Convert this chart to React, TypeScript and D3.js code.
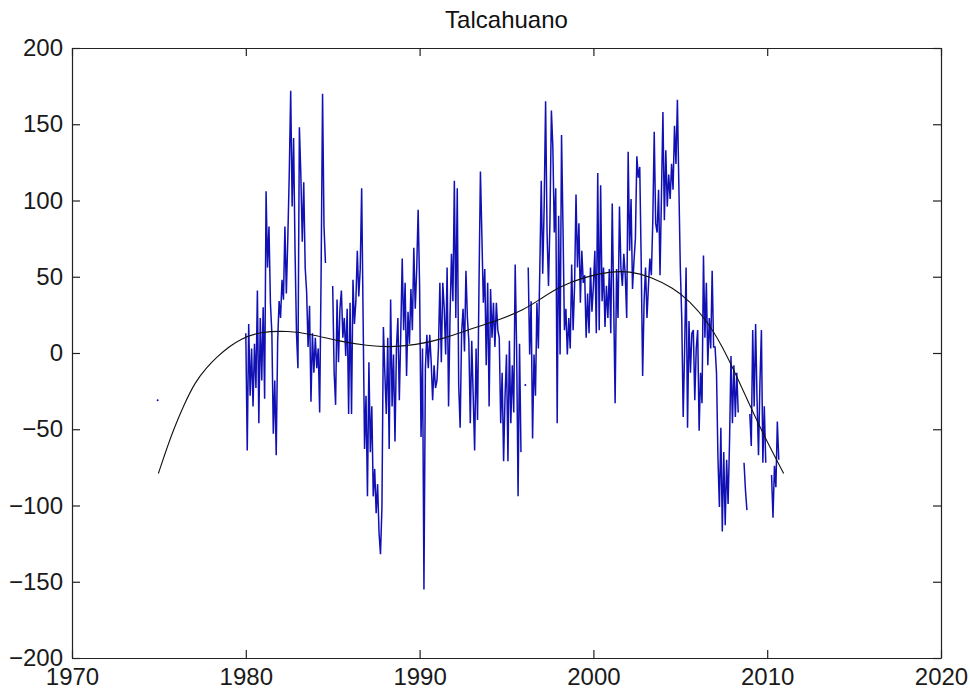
import React, { useEffect, useRef } from "react";
import * as d3 from "d3";

const title = "Talcahuano";
const xTicks = [1970, 1980, 1990, 2000, 2010, 2020];
const yTicks = [-200, -150, -100, -50, 0, 50, 100, 150, 200];

// monthly values Jan..Dec, null where the record has a gap
const firstYear = 1980;
const y1980 = [13, -64, 19, -28, 3, -35, 6, -23, 41, -46, 23, -18];
const y1981 = [30, -30, 106, 56, 83, 33, 13, -53, -18, -67, 8, 34];
const y1982 = [23, 48, 35, 83, 39, 75, 117, 172, 96, 141, 67, 13];
const y1983 = [-10, 148, 117, 73, 112, 56, 40, 4, 31, -32, 13, -13];
const y1984 = [10, -10, 3, -39, 52, 170, 83, 59, null, null, null, null];
const y1985 = [44, -13, -34, 35, -6, 29, 41, 10, 23, -2, 29, -40];
const y1986 = [33, -40, 48, 19, 34, 67, 37, 55, 108, 23, -63, -28];
const y1987 = [-94, -6, -65, -35, -94, -76, -105, -86, -118, -132, -101, 17];
const y1988 = [-13, -40, 10, -63, 35, -35, -1, -58, 3, 23, -31, 13];
const y1989 = [62, 15, 46, -15, 27, 6, 42, 15, 69, 29, 55, 94];
const y1990 = [44, -55, 3, -155, -10, 12, -10, 12, -6, -31, -8, -23];
const y1991 = [-18, 3, 46, -6, 46, 29, -1, 56, -35, 23, 65, 34];
const y1992 = [113, 23, 108, -21, -49, 13, 29, 1, 54, 23, 8, -46];
const y1993 = [8, -28, -64, 3, -44, 44, 119, 77, 33, 55, -8, 46];
const y1994 = [-35, 42, 10, 33, 4, 33, 15, 10, -46, -13, -71, -28];
const y1995 = [-1, -71, 8, -46, -8, -39, 58, 3, -94, 6, -65, null];
const y1996 = [null, -21, null, 56, -1, 34, -56, -1, -28, 33, 3, 55];
const y1997 = [113, 52, 96, 165, 79, 44, 86, 159, 135, 79, 108, -46];
const y1998 = [90, -1, 143, 83, 15, 29, -1, 23, 3, 58, 15, 44];
const y1999 = [104, 56, 85, 33, 67, 46, 51, 10, 39, 13, 56, 27];
const y2000 = [44, 67, 13, 118, 15, 110, 34, 56, 17, 44, 23, 55];
const y2001 = [13, 98, 34, -33, 55, 23, 96, 56, 44, 65, 51, 23];
const y2002 = [132, 67, 101, 42, 60, 75, 129, 115, 122, 60, -15, 34];
const y2003 = [56, 23, 44, 62, 51, 86, 145, 85, 79, 107, 51, 104];
const y2004 = [158, 87, 133, 96, 117, 101, 124, 107, 149, 124, 166, 110];
const y2005 = [56, 23, -42, 3, 56, -49, 21, -13, 13, 15, -31, 3];
const y2006 = [15, -51, -13, -33, 64, 10, 46, -8, 23, 3, 54, 4];
const y2007 = [4, -13, -69, -101, -49, -117, -65, -113, -70, -99, -58, -2];
const y2008 = [-46, -8, -42, -13, -39, null, null, null, -72, -90, -103, null];
const y2009 = [-40, -61, 15, -35, 19, -31, -67, -19, 15, -72, -35, -72];
const y2010 = [null, null, null, -80, -108, -74, -88, -45, -70, null, null, null];

const years = [
  y1980, y1981, y1982, y1983, y1984, y1985, y1986, y1987, y1988, y1989,
  y1990, y1991, y1992, y1993, y1994, y1995, y1996, y1997, y1998, y1999,
  y2000, y2001, y2002, y2003, y2004, y2005, y2006, y2007, y2008, y2009, y2010,
];

// a lone reading well before the record starts
const strayTimes = [1974.93];
const strayValues = [-31];

// fitted trend
const trendTimes = [
  1974.97, 1975.35, 1975.83, 1976.4, 1977.08, 1977.75, 1978.33, 1979.09, 1979.67,
  1980.8, 1982.5, 1983.7, 1985.4, 1987.0, 1988.3, 1989.8, 1991.2, 1993.1, 1994.6,
  1996.0, 1996.9, 1998.08, 1999.42, 2000.95, 2002.1, 2003.26, 2004.6, 2005.56,
  2006.5, 2007.4, 2008.4, 2009.3, 2010.3, 2010.95,
];
const trendValues = [
  -79, -66, -50.5, -35, -19, -9.5, -2.5, 4.5, 9,
  14, 14.5, 12.5, 7.6, 4.8, 3.7, 5.4, 8.7, 16.4, 21.8,
  28.4, 35, 43.7, 49.6, 53.5, 53.6, 50.2, 42.6, 33.8,
  21.5, 5, -19, -42, -65, -79,
];

type Pt = { t: number; v: number | null };

export default function App() {
  const svgRef = useRef<SVGSVGElement>(null);

  useEffect(() => {
    const width = 970;
    const height = 690;
    const left = 72, right = 941, top = 48, bottom = 658;
    const font = "'Liberation Sans', Arial, Helvetica, sans-serif";

    const svg = d3.select(svgRef.current).attr("width", width).attr("height", height);
    svg.selectAll("*").remove();

    svg.append("rect").attr("width", width).attr("height", height).attr("fill", "#fff");

    const x = d3.scaleLinear().domain([1970, 2020]).range([left, right]);
    const y = d3.scaleLinear().domain([-200, 200]).range([bottom, top]);

    const series: Pt[] = [];
    years.forEach((row, i) => {
      row.forEach((v, m) => series.push({ t: firstYear + i + m / 12, v }));
    });

    const line = d3
      .line<Pt>()
      .defined((d) => d.v !== null)
      .x((d) => x(d.t))
      .y((d) => y(d.v as number));

    const plot = svg.append("g");
    const blue = "#1010b4";

    plot
      .append("path")
      .datum(series)
      .attr("fill", "none")
      .attr("stroke", blue)
      .attr("stroke-width", 1.5)
      .attr("stroke-linejoin", "miter")
      .attr("d", line);

    // points with no neighbour on either side would vanish in a path
    const lone = series.filter(
      (d, i) =>
        d.v !== null &&
        (i === 0 || series[i - 1].v === null) &&
        (i === series.length - 1 || series[i + 1].v === null)
    );
    const strays: Pt[] = strayTimes.map((t, i) => ({ t, v: strayValues[i] }));
    plot
      .selectAll("circle.lone")
      .data([...lone, ...strays])
      .join("circle")
      .attr("class", "lone")
      .attr("cx", (d) => x(d.t))
      .attr("cy", (d) => y(d.v as number))
      .attr("r", 1)
      .attr("fill", blue);

    const trend = trendTimes.map((t, i) => ({ t, v: trendValues[i] }));
    plot
      .append("path")
      .datum(trend)
      .attr("fill", "none")
      .attr("stroke", "#111")
      .attr("stroke-width", 1.1)
      .attr(
        "d",
        d3
          .line<{ t: number; v: number }>()
          .curve(d3.curveBasis)
          .x((d) => x(d.t))
          .y((d) => y(d.v))
      );

    const axisColor = "#222";
    const styleAxis = (g: any, showText: boolean) => {
      g.select(".domain").attr("stroke", axisColor).attr("stroke-width", 1.2);
      g.selectAll(".tick line").attr("stroke", axisColor).attr("stroke-width", 1.2);
      g.selectAll(".tick text")
        .attr("fill", showText ? "#1a1a1a" : "none")
        .attr("font-family", font)
        .attr("font-size", 24);
    };

    svg
      .append("g")
      .attr("transform", `translate(0,${bottom})`)
      .call(d3.axisBottom(x).tickValues(xTicks).tickFormat(d3.format("d")).tickSizeInner(-8).tickSizeOuter(0).tickPadding(10))
      .call((g) => styleAxis(g, true));

    svg
      .append("g")
      .attr("transform", `translate(${left},0)`)
      .call(d3.axisLeft(y).tickValues(yTicks).tickFormat(d3.format("d")).tickSizeInner(-8).tickSizeOuter(0).tickPadding(9))
      .call((g) => styleAxis(g, true));

    svg
      .append("g")
      .attr("transform", `translate(0,${top})`)
      .call(d3.axisTop(x).tickValues(xTicks).tickFormat(() => "").tickSizeInner(-8).tickSizeOuter(0))
      .call((g) => styleAxis(g, false));

    svg
      .append("g")
      .attr("transform", `translate(${right},0)`)
      .call(d3.axisRight(y).tickValues(yTicks).tickFormat(() => "").tickSizeInner(-8).tickSizeOuter(0))
      .call((g) => styleAxis(g, false));

    svg
      .append("text")
      .attr("x", (left + right) / 2)
      .attr("y", 28)
      .attr("text-anchor", "middle")
      .attr("font-family", font)
      .attr("font-size", 24)
      .attr("fill", "#111")
      .text(title);
  }, []);

  return (
    <div style={{ position: "absolute", left: 0, top: 0 }}>
      <svg ref={svgRef}></svg>
    </div>
  );
}
